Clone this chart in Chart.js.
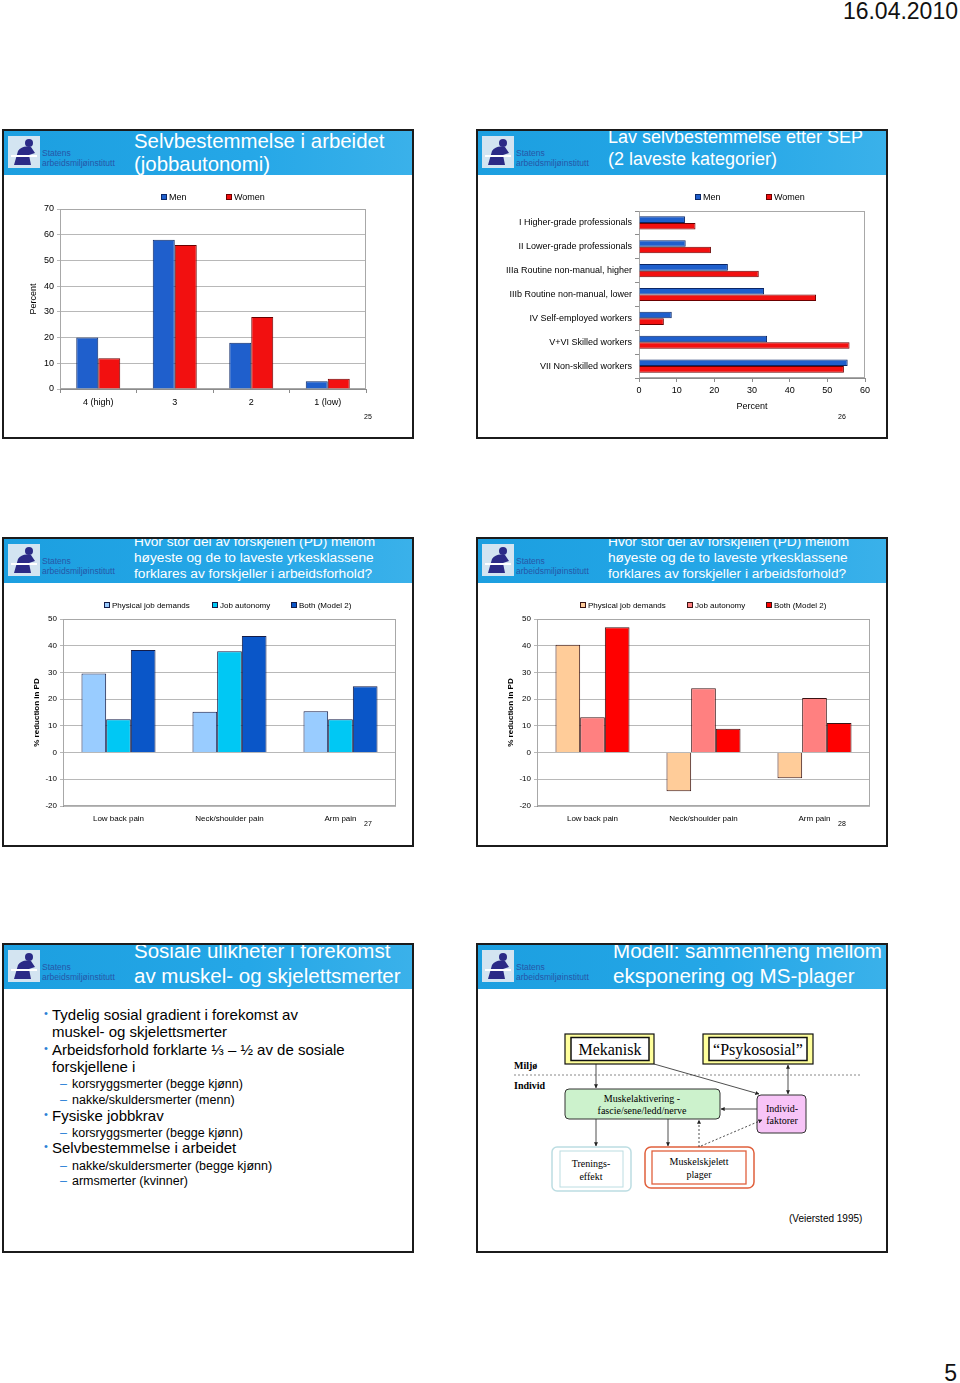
<!DOCTYPE html>
<html>
<head>
<meta charset="utf-8">
<title>Side 5</title>
<script src="https://cdn.jsdelivr.net/npm/chart.js@4.4.0/dist/chart.umd.min.js"></script>
<style>
  html, body { margin: 0; padding: 0; background: #fff; }
  body { width: 960px; height: 1383px; position: relative; overflow: hidden; font-family: "Liberation Sans", Arial, sans-serif; color: #000; }
  .slide { position: absolute; width: 412px; height: 310px; border: 2px solid #1b1b1b; box-sizing: border-box; background: #fff; }
  .band { position: absolute; left: 0; top: 0; right: 0; height: 44px; background: linear-gradient(90deg, #1c9fe0, #25a7e7 60%, #3ab1ea); overflow: hidden; }
  .logo { position: absolute; left: 4px; top: 5px; width: 32px; height: 32px; }
  .org { position: absolute; left: 38px; color: #2656a8; font-size: 8.5px; line-height: 10px; white-space: nowrap; }
  .title { position: absolute; left: 130px; color: #fff; white-space: nowrap; }
  .pno { position: absolute; font-size: 7px; line-height: 8px; }
  .chart { position: absolute; }
  .line { position: absolute; white-space: nowrap; }
  .main { font-size: 15px; line-height: 17px; left: 52px; }
  .sub { font-size: 12.5px; line-height: 16px; left: 72px; }
  .dot { position: absolute; left: -8px; top: -1px; color: #2b7fd6; font-size: 11px; }
  .dash { position: absolute; left: -12px; color: #2b7fd6; }
</style>
</head>
<body>

<div class="line" style="right:2px; top:0; font-size:23px; line-height:23px; color:#111;">16.04.2010</div>
<div class="line" style="right:3px; top:1362px; font-size:23px; line-height:23px; color:#111;">5</div>

<!-- slide frames -->
<div class="slide" id="s1" style="left:2px; top:129px;"></div>
<div class="slide" id="s2" style="left:476px; top:129px;"></div>
<div class="slide" id="s3" style="left:2px; top:537px;"></div>
<div class="slide" id="s4" style="left:476px; top:537px;"></div>
<div class="slide" id="s5" style="left:2px; top:943px;"></div>
<div class="slide" id="s6" style="left:476px; top:943px;"></div>

<canvas class="chart" id="autonomyChart" width="372" height="240" style="left:14px; top:185px;"></canvas>
<canvas class="chart" id="sepChart" width="400" height="240" style="left:480px; top:185px;"></canvas>
<canvas class="chart" id="pdMenChart" width="392" height="244" style="left:14px; top:596px;"></canvas>
<canvas class="chart" id="pdWomenChart" width="392" height="244" style="left:488px; top:596px;"></canvas>

<div class="pno" style="left:364px; top:413px;">25</div>
<div class="pno" style="left:838px; top:413px;">26</div>
<div class="pno" style="left:364px; top:820px;">27</div>
<div class="pno" style="left:838px; top:820px;">28</div>

<!-- slide 5 text -->
<div class="line main" style="top:1006px;"><span class="dot">•</span>Tydelig sosial gradient i forekomst av</div>
<div class="line main" style="top:1023px;">muskel- og skjelettsmerter</div>
<div class="line main" style="top:1041px;"><span class="dot">•</span>Arbeidsforhold forklarte ⅓ – ½ av de sosiale</div>
<div class="line main" style="top:1058px;">forskjellene i</div>
<div class="line sub" style="top:1076px;"><span class="dash">–</span>korsryggsmerter (begge kjønn)</div>
<div class="line sub" style="top:1092px;"><span class="dash">–</span>nakke/skuldersmerter (menn)</div>
<div class="line main" style="top:1107px;"><span class="dot">•</span>Fysiske jobbkrav</div>
<div class="line sub" style="top:1125px;"><span class="dash">–</span>korsryggsmerter (begge kjønn)</div>
<div class="line main" style="top:1139px;"><span class="dot">•</span>Selvbestemmelse i arbeidet</div>
<div class="line sub" style="top:1158px;"><span class="dash">–</span>nakke/skuldersmerter (begge kjønn)</div>
<div class="line sub" style="top:1173px;"><span class="dash">–</span>armsmerter (kvinner)</div>

<!-- slide 6 model -->
<svg class="chart" style="left:476px; top:943px;" width="412" height="310" font-family="'Liberation Serif', 'Times New Roman', serif">
  <defs>
    <marker id="ah" viewBox="0 0 6 6" refX="5.5" refY="3" markerWidth="5" markerHeight="5" orient="auto-start-reverse">
      <path d="M0,0 L6,3 L0,6 Z" fill="#222"/>
    </marker>
  </defs>
  <g transform="translate(-476,-943)">
    <rect x="565" y="1034" width="89" height="30" fill="#ffff9c" stroke="#111" stroke-width="1.2"/>
    <rect x="571" y="1037.5" width="78" height="23" fill="#fff" stroke="#111" stroke-width="1.5"/>
    <text x="610" y="1055" font-size="16" text-anchor="middle">Mekanisk</text>
    <rect x="703" y="1034" width="110" height="30" fill="#ffff9c" stroke="#111" stroke-width="1.2"/>
    <rect x="709" y="1037.5" width="98" height="23" fill="#fff" stroke="#111" stroke-width="1.5"/>
    <text x="758" y="1055" font-size="16" text-anchor="middle">“Psykososial”</text>

    <text x="514" y="1069" font-size="10" font-weight="bold">Miljø</text>
    <text x="514" y="1089" font-size="10" font-weight="bold">Individ</text>
    <line x1="514" y1="1075" x2="861" y2="1075" stroke="#888" stroke-dasharray="2 2"/>

    <rect x="565" y="1089" width="155" height="30" rx="4" fill="#ccf2cc" stroke="#333"/>
    <text x="642" y="1102" font-size="10" text-anchor="middle">Muskelaktivering -</text>
    <text x="642" y="1114" font-size="10" text-anchor="middle">fascie/sene/ledd/nerve</text>

    <rect x="757" y="1095" width="49" height="38" rx="4" fill="#f7c4f7" stroke="#333"/>
    <text x="782" y="1112" font-size="10" text-anchor="middle">Individ-</text>
    <text x="782" y="1124" font-size="10" text-anchor="middle">faktorer</text>

    <rect x="552" y="1147" width="79" height="44" rx="5" fill="none" stroke="#bcdde2" stroke-width="1.5"/>
    <rect x="560" y="1151" width="63" height="36" fill="none" stroke="#bcdde2"/>
    <text x="591" y="1167" font-size="10" text-anchor="middle">Trenings-</text>
    <text x="591" y="1180" font-size="10" text-anchor="middle">effekt</text>

    <rect x="645" y="1147" width="109" height="41" rx="6" fill="none" stroke="#e0603c" stroke-width="1.5"/>
    <rect x="652" y="1151" width="94" height="33" fill="none" stroke="#e0603c" stroke-width="1.3"/>
    <text x="699" y="1165" font-size="10" text-anchor="middle">Muskelskjelett</text>
    <text x="699" y="1178" font-size="10" text-anchor="middle">plager</text>

    <g stroke="#222" stroke-width="0.8" fill="none">
      <line x1="596" y1="1064" x2="596" y2="1088" marker-end="url(#ah)"/>
      <line x1="654" y1="1064" x2="759" y2="1094" marker-end="url(#ah)"/>
      <line x1="788" y1="1065" x2="788" y2="1094" marker-start="url(#ah)" marker-end="url(#ah)"/>
      <line x1="757" y1="1109" x2="721" y2="1109" marker-end="url(#ah)"/>
      <line x1="596" y1="1119" x2="596" y2="1146" marker-end="url(#ah)"/>
      <line x1="668" y1="1119" x2="668" y2="1146" marker-end="url(#ah)"/>
      <line x1="699" y1="1147" x2="699" y2="1120" stroke-dasharray="2 2" marker-end="url(#ah)"/>
      <line x1="701" y1="1146" x2="762" y2="1120" stroke-dasharray="2 2" marker-end="url(#ah)"/>
    </g>
    <text x="789" y="1222" font-size="10" font-family="'Liberation Sans', Arial, sans-serif">(Veiersted 1995)</text>
  </g>
</svg>

<script>
// slide 25: job autonomy
const autonomyLevels = ['4 (high)', '3', '2', '1 (low)'];
const autonomyMen = [20, 58, 18, 3];
const autonomyWomen = [12, 56, 28, 4];
const autonomyTicks = [0, 10, 20, 30, 40, 50, 60, 70];

// slide 26: low autonomy by class (SEP)
const sepClasses = [
    'I Higher-grade professionals',
    'II Lower-grade professionals',
    'IIIa Routine non-manual, higher',
    'IIIb Routine non-manual, lower',
    'IV Self-employed workers',
    'V+VI Skilled workers',
    'VII Non-skilled workers'
];
const lowAutonomyMen = [12.2, 12.4, 23.6, 33.2, 8.7, 34, 55.4];
const lowAutonomyWomen = [15, 19.1, 31.8, 47, 6.6, 55.9, 54.4];
const percentTicks = [0, 10, 20, 30, 40, 50, 60];

// slides 27-28: % reduction in PD
const painSites = ['Low back pain', 'Neck/shoulder pain', 'Arm pain'];
const factorNames = ['Physical job demands', 'Job autonomy', 'Both (Model 2)'];
const menPhysical = [29.6, 15.3, 15.5];
const menAutonomy = [12.5, 37.9, 12.5];
const menBoth = [38.4, 43.6, 24.8];
const womenPhysical = [40.4, -14.5, -9.6];
const womenAutonomy = [13.2, 24.1, 20.4];
const womenBoth = [46.9, 8.9, 11.1];
const pdTicks = [-20, -10, 0, 10, 20, 30, 40, 50];

Chart.defaults.font.family = '"Liberation Sans", Arial, sans-serif';
Chart.defaults.color = '#000';

const gridGrey = '#b8b8b8';
const axisGrey = '#8c8c8c';

// grey frame round the plot area
const plotFrame = {
    id: 'plotFrame',
    beforeDatasetsDraw(chart) {
        const a = chart.chartArea;
        const c = chart.ctx;
        c.save();
        c.strokeStyle = '#a8a8a8';
        c.lineWidth = 1;
        c.strokeRect(Math.round(a.left) + 0.5, Math.round(a.top) + 0.5, Math.round(a.width) - 1, Math.round(a.height) - 1);
        c.restore();
    }
};

// small square legend like the slides
const boxLegend = {
    id: 'boxLegend',
    afterDraw(chart, args, opts) {
        const c = chart.ctx;
        c.save();
        c.font = opts.size + 'px "Liberation Sans", Arial, sans-serif';
        c.textBaseline = 'middle';
        chart.data.datasets.forEach((ds, i) => {
            const x = opts.x[i];
            c.fillStyle = ds.backgroundColor;
            c.fillRect(x, opts.y - 3, 6, 6);
            c.strokeStyle = ds.borderColor;
            c.lineWidth = 1;
            c.strokeRect(x + 0.5, opts.y - 2.5, 5, 5);
            c.fillStyle = '#000';
            c.fillText(ds.label, x + 8, opts.y + 0.5);
        });
        c.restore();
    }
};

const menBlue = '#1f5fcc', menEdge = '#0b2766';
const womenRed = '#f21010', womenEdge = '#6b0000';

new Chart(document.getElementById('autonomyChart'), {
    type: 'bar',
    data: {
        labels: autonomyLevels,
        datasets: [
            { label: 'Men', data: autonomyMen, backgroundColor: menBlue, borderColor: menEdge, borderWidth: 1 },
            { label: 'Women', data: autonomyWomen, backgroundColor: womenRed, borderColor: womenEdge, borderWidth: 1 }
        ]
    },
    options: {
        responsive: false,
        animation: false,
        datasets: { bar: { categoryPercentage: 0.575, barPercentage: 1 } },
        layout: { padding: { top: 24, right: 20, bottom: 0, left: 0 } },
        scales: {
            x: {
                grid: { drawOnChartArea: false, tickLength: 4, color: axisGrey },
                border: { color: axisGrey },
                ticks: { font: { size: 9 }, padding: 4 },
                afterFit: (s) => { s.height = 36; }
            },
            y: {
                min: autonomyTicks[0],
                max: autonomyTicks[autonomyTicks.length - 1],
                ticks: { stepSize: autonomyTicks[1] - autonomyTicks[0], font: { size: 9 }, padding: 3 },
                grid: { color: gridGrey, tickLength: 3 },
                border: { color: axisGrey },
                title: { display: true, text: 'Percent', font: { size: 9 }, padding: { top: 14, bottom: 0 } },
                afterFit: (s) => { s.width = 46; }
            }
        },
        plugins: {
            legend: { display: false },
            tooltip: { enabled: false },
            boxLegend: { x: [147, 212], y: 12, size: 9 }
        }
    },
    plugins: [plotFrame, boxLegend]
});

new Chart(document.getElementById('sepChart'), {
    type: 'bar',
    data: {
        labels: sepClasses,
        datasets: [
            { label: 'Men', data: lowAutonomyMen, backgroundColor: menBlue, borderColor: menEdge, borderWidth: 1 },
            { label: 'Women', data: lowAutonomyWomen, backgroundColor: womenRed, borderColor: womenEdge, borderWidth: 1 }
        ]
    },
    options: {
        indexAxis: 'y',
        responsive: false,
        animation: false,
        datasets: { bar: { categoryPercentage: 0.55, barPercentage: 1 } },
        layout: { padding: { top: 26, right: 15, bottom: 0, left: 0 } },
        scales: {
            x: {
                min: percentTicks[0],
                max: percentTicks[percentTicks.length - 1],
                ticks: { stepSize: percentTicks[1] - percentTicks[0], font: { size: 9 }, padding: 3 },
                grid: { drawOnChartArea: false, tickLength: 4, color: axisGrey },
                border: { color: axisGrey },
                title: { display: true, text: 'Percent', font: { size: 9 }, padding: { top: 0, bottom: 13 } },
                afterFit: (s) => { s.height = 47; }
            },
            y: {
                grid: { drawOnChartArea: false, tickLength: 4, color: axisGrey },
                border: { color: axisGrey },
                ticks: { font: { size: 9 }, padding: 3 },
                afterFit: (s) => { s.width = 159; }
            }
        },
        plugins: {
            legend: { display: false },
            tooltip: { enabled: false },
            boxLegend: { x: [215, 286], y: 12, size: 9 }
        }
    },
    plugins: [plotFrame, boxLegend]
});

function pdChart(id, values, colours, edge, legendX) {
    new Chart(document.getElementById(id), {
        type: 'bar',
        data: {
            labels: painSites,
            datasets: values.map((v, i) => ({
                label: factorNames[i], data: v, backgroundColor: colours[i], borderColor: edge, borderWidth: 1
            }))
        },
        options: {
            responsive: false,
            animation: false,
            datasets: { bar: { categoryPercentage: 0.667, barPercentage: 1 } },
            layout: { padding: { top: 23, right: 10, bottom: 0, left: 0 } },
            scales: {
                x: {
                    grid: { display: false, drawTicks: false },
                    border: { display: false },
                    ticks: { font: { size: 8 }, padding: 8 },
                    afterFit: (s) => { s.height = 34; }
                },
                y: {
                    min: pdTicks[0],
                    max: pdTicks[pdTicks.length - 1],
                    ticks: { stepSize: pdTicks[1] - pdTicks[0], font: { size: 8 }, padding: 3 },
                    grid: { color: gridGrey, tickLength: 3 },
                    border: { color: axisGrey },
                    title: { display: true, text: '% reduction in PD', font: { size: 8, weight: 'bold' }, padding: { top: 18, bottom: 0 } },
                    afterFit: (s) => { s.width = 49; }
                }
            },
            plugins: {
                legend: { display: false },
                tooltip: { enabled: false },
                boxLegend: { x: legendX, y: 9, size: 8 }
            }
        },
        plugins: [plotFrame, boxLegend]
    });
}

pdChart('pdMenChart', [menPhysical, menAutonomy, menBoth], ['#99ccff', '#00c8f4', '#0a56c8'], '#141c48', [90, 198, 277]);
pdChart('pdWomenChart', [womenPhysical, womenAutonomy, womenBoth], ['#ffcc99', '#ff8080', '#ff0000'], '#3a1414', [92, 199, 278]);

// header bands: logo, institute name and title
const slideTitles = {
    s1: { lines: ['Selvbestemmelse i arbeidet', '(jobbautonomi)'], size: 20.4, lh: 23, top: -1, left: 130 },
    s2: { lines: ['Lav selvbestemmelse etter SEP', '(2 laveste kategorier)'], size: 18, lh: 22, top: -5, left: 130 },
    s3: { lines: ['Hvor stor del av forskjellen (PD) mellom', 'høyeste og de to laveste yrkesklassene', 'forklares av forskjeller i arbeidsforhold?'], size: 13.7, lh: 16, top: -5, left: 130 },
    s4: { lines: ['Hvor stor del av forskjellen (PD) mellom', 'høyeste og de to laveste yrkesklassene', 'forklares av forskjeller i arbeidsforhold?'], size: 13.7, lh: 16, top: -5, left: 130 },
    s5: { lines: ['Sosiale ulikheter i forekomst', 'av muskel- og skjelettsmerter'], size: 20.5, lh: 25, top: -7, left: 130 },
    s6: { lines: ['Modell: sammenheng mellom', 'eksponering og MS-plager'], size: 20.6, lh: 25, top: -7, left: 135 }
};

const logoSvg = '<svg class="logo" viewBox="0 0 32 32"><rect width="32" height="32" fill="#d3e4f1"/>' +
    '<circle cx="21" cy="7" r="4" fill="#2b2a86"/>' +
    '<path d="M6 29 L10 15 Q14 9 23 11 L27 17 L21 19 L23 29 Z" fill="#2b2a86"/>' +
    '<rect x="3" y="19" width="26" height="2" fill="#fff"/></svg>';

Object.keys(slideTitles).forEach((id) => {
    const t = slideTitles[id];
    const band = document.createElement('div');
    band.className = 'band';
    band.innerHTML = logoSvg +
        '<div class="org" style="top:17px;">Statens</div>' +
        '<div class="org" style="top:27px;">arbeidsmiljøinstitutt</div>' +
        `<div class="title" style="left:${t.left}px; top:${t.top}px; font-size:${t.size}px; line-height:${t.lh}px;">${t.lines.join('<br>')}</div>`;
    document.getElementById(id).appendChild(band);
});
</script>
</body>
</html>
